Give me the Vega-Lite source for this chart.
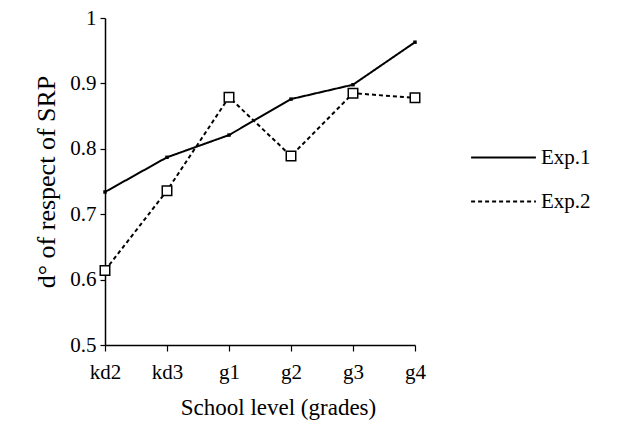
{
  "$schema": "https://vega.github.io/schema/vega-lite/v6.json",
  "width": 310,
  "height": 327,
  "autosize": {"type": "none"},
  "padding": {"left": 105, "top": 18, "right": 207, "bottom": 93},
  "background": "white",
  "config": {
    "view": {"stroke": null},
    "font": "Liberation Serif",
    "axis": {
      "grid": false,
      "domainColor": "black",
      "tickColor": "black",
      "labelColor": "black",
      "titleColor": "black",
      "titleFontWeight": "normal",
      "domainWidth": 1.5,
      "tickWidth": 1.2
    }
  },
  "data": {
    "values": [
      {"grade": "kd2", "series": "Exp.1", "value": 0.734},
      {"grade": "kd3", "series": "Exp.1", "value": 0.787},
      {"grade": "g1", "series": "Exp.1", "value": 0.821},
      {"grade": "g2", "series": "Exp.1", "value": 0.876},
      {"grade": "g3", "series": "Exp.1", "value": 0.898},
      {"grade": "g4", "series": "Exp.1", "value": 0.963},
      {"grade": "kd2", "series": "Exp.2", "value": 0.614},
      {"grade": "kd3", "series": "Exp.2", "value": 0.736},
      {"grade": "g1", "series": "Exp.2", "value": 0.879},
      {"grade": "g2", "series": "Exp.2", "value": 0.789},
      {"grade": "g3", "series": "Exp.2", "value": 0.885},
      {"grade": "g4", "series": "Exp.2", "value": 0.878}
    ]
  },
  "encoding": {
    "x": {
      "field": "grade",
      "type": "ordinal",
      "sort": ["kd2", "kd3", "g1", "g2", "g3", "g4"],
      "scale": {"type": "point", "padding": 0},
      "axis": {
        "title": "School level (grades)",
        "titleFont": "Liberation Serif",
        "labelFont": "Liberation Serif",
        "titleFontSize": 23,
        "titlePadding": 14,
        "titleX": 173,
        "labelFontSize": 21,
        "labelAngle": 0,
        "tickSize": 6,
        "labelPadding": 10
      }
    },
    "y": {
      "field": "value",
      "type": "quantitative",
      "scale": {"domain": [0.5, 1], "zero": false, "nice": false},
      "axis": {
        "title": "d° of respect of SRP",
        "titleFont": "Liberation Serif",
        "labelFont": "Liberation Serif",
        "titleFontSize": 26,
        "titlePadding": 10,
        "labelFontSize": 21,
        "values": [0.5, 0.6, 0.7, 0.8, 0.9, 1],
        "labelExpr": "datum.value == 1 ? '1' : format(datum.value, '.1f')",
        "tickSize": 5,
        "labelPadding": 4
      }
    }
  },
  "layer": [
    {
      "mark": {"type": "line", "color": "black", "strokeWidth": 2},
      "encoding": {
        "strokeDash": {
          "field": "series",
          "type": "nominal",
          "scale": {"domain": ["Exp.1", "Exp.2"], "range": [[1, 0], [4, 3]]},
          "legend": {
            "title": null,
            "orient": "none",
            "legendX": 365,
            "legendY": 106,
            "symbolType": "stroke",
            "symbolSize": 4200,
            "symbolStrokeColor": "black",
            "symbolStrokeWidth": 2,
            "labelFont": "Liberation Serif",
            "labelFontSize": 21,
            "labelColor": "black",
            "rowPadding": -29,
            "labelOffset": 4
          }
        }
      }
    },
    {
      "transform": [{"filter": "datum.series == 'Exp.1'"}],
      "mark": {"type": "square", "color": "black", "size": 12, "opacity": 1},
      "encoding": {}
    },
    {
      "transform": [{"filter": "datum.series == 'Exp.2'"}],
      "mark": {"type": "square", "filled": false, "fill": "white", "stroke": "black", "strokeWidth": 1.5, "size": 90, "opacity": 1},
      "encoding": {}
    }
  ]
}
